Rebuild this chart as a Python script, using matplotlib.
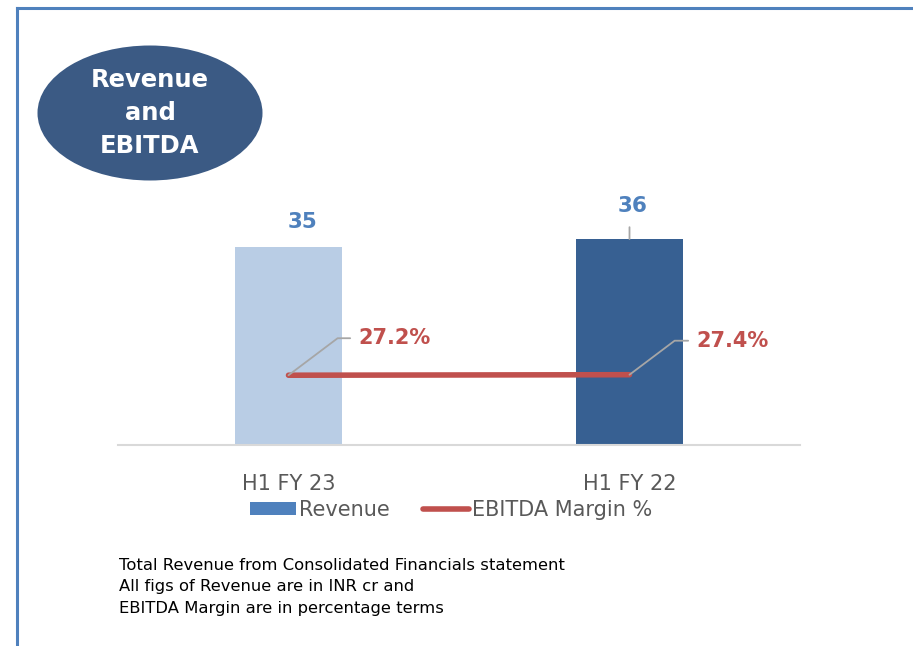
import matplotlib
matplotlib.use("Agg")
import matplotlib.pyplot as plt
from matplotlib.patches import Ellipse, Patch
from matplotlib.lines import Line2D

categories = ["H1 FY 23", "H1 FY 22"]
revenue = [35.0, 36.4]
ebitda_margin = [27.2, 27.4]
footnote_lines = [
    "Total Revenue from Consolidated Financials statement",
    "All figs of Revenue are in INR cr and",
    "EBITDA Margin are in percentage terms",
]
title_text = "Revenue\nand\nEBITDA"

bar_colors = ["#b9cde5", "#376092"]
legend_blue = "#4f81bd"
red = "#c0504d"
gray_text = "#595959"
leader = "#a6a6a6"

W, H = 913, 646
fig = plt.figure(figsize=(W / 100, H / 100), dpi=100)
fig.patch.set_facecolor("white")

# title ellipse (background layer)
eax = fig.add_axes([0, 0, 1, 1], zorder=0)
eax.set_xlim(0, W)
eax.set_ylim(H, 0)
eax.axis("off")
eax.add_patch(Ellipse((150, 113), 225, 135, facecolor="#3b5a84", edgecolor="none"))
eax.text(150, 113, title_text, ha="center", va="center", color="white",
         fontsize=17.5, fontweight="bold", linespacing=1.45)

# border lines (top and left)
fig.add_artist(Line2D([17 / W, 1.0], [1 - 8 / H, 1 - 8 / H], color=legend_blue, lw=2.2))
fig.add_artist(Line2D([17 / W, 17 / W], [0, 1 - 8 / H], color=legend_blue, lw=2.2))

ax_left, ax_right = 118 / W, 800 / W
ax_bottom = (H - 445) / H
ax_top = (H - 150) / H
ax = fig.add_axes([ax_left, ax_bottom, ax_right - ax_left, ax_top - ax_bottom], zorder=1)
ax.patch.set_alpha(0)
ax.set_xlim(-0.5, 1.5)
ax.set_ylim(0, 295 / (198 / 35.0))
x = list(range(len(categories)))
ax.bar(x, revenue, width=0.314, color=bar_colors, zorder=2)
for s in ["top", "right", "left"]:
    ax.spines[s].set_visible(False)
ax.spines["bottom"].set_color("#d9d9d9")
ax.spines["bottom"].set_linewidth(1.5)
ax.set_yticks([])
ax.set_xticks(x)
ax.set_xticklabels(categories, fontsize=15, color=gray_text, family="DejaVu Sans")
ax.tick_params(axis="x", length=0, pad=21)

# revenue labels
ax.annotate(f"{revenue[0]:.0f}", xy=(x[0], revenue[0]), xytext=(14, 25),
            textcoords="offset pixels", ha="center", va="center",
            fontsize=15.5, fontweight="bold", color=legend_blue)
ax.annotate(f"{revenue[1]:.0f}", xy=(x[1], revenue[1]), xytext=(3, 33),
            textcoords="offset pixels", ha="center", va="center",
            fontsize=15.5, fontweight="bold", color=legend_blue,
            arrowprops=dict(arrowstyle="-", color=leader, lw=1.3,
                            relpos=(0.4, 0.0), shrinkA=6, shrinkB=0))

ax2 = ax.twinx()
ax2.set_ylim(0, 115)
ax2.axis("off")
ax2.plot(x, ebitda_margin, color=red, lw=4, solid_capstyle="round", zorder=3)

offsets = [(70, 37), (67, 34)]
for xi, v, off in zip(x, ebitda_margin, offsets):
    ax2.annotate(f"{v:.1f}%", xy=(xi, v), xytext=off, textcoords="offset pixels",
                 ha="left", va="center", fontsize=15, fontweight="bold", color=red,
                 arrowprops=dict(arrowstyle="-", color=leader, lw=1.3,
                                 connectionstyle="angle,angleA=0,angleB=37,rad=0",
                                 relpos=(0.0, 0.5), shrinkA=4, shrinkB=0))

# legend
handles = [Patch(facecolor=legend_blue, edgecolor="none"),
           Line2D([0], [0], color=red, lw=4, solid_capstyle="round")]
fig.legend(handles, ["Revenue", "EBITDA Margin %"], loc="center",
           bbox_to_anchor=(451 / W, 1 - 510 / H), ncol=2, frameon=False,
           fontsize=15, handlelength=2.2, handleheight=0.6, handletextpad=0.15,
           columnspacing=1.6, labelcolor=gray_text)

for i, line in enumerate(footnote_lines):
    fig.text(119 / W, 1 - (566 + 21 * i) / H, line, ha="left", va="center",
             fontsize=11.8, color="black")

fig.savefig("out.png", dpi=100, facecolor="white")
